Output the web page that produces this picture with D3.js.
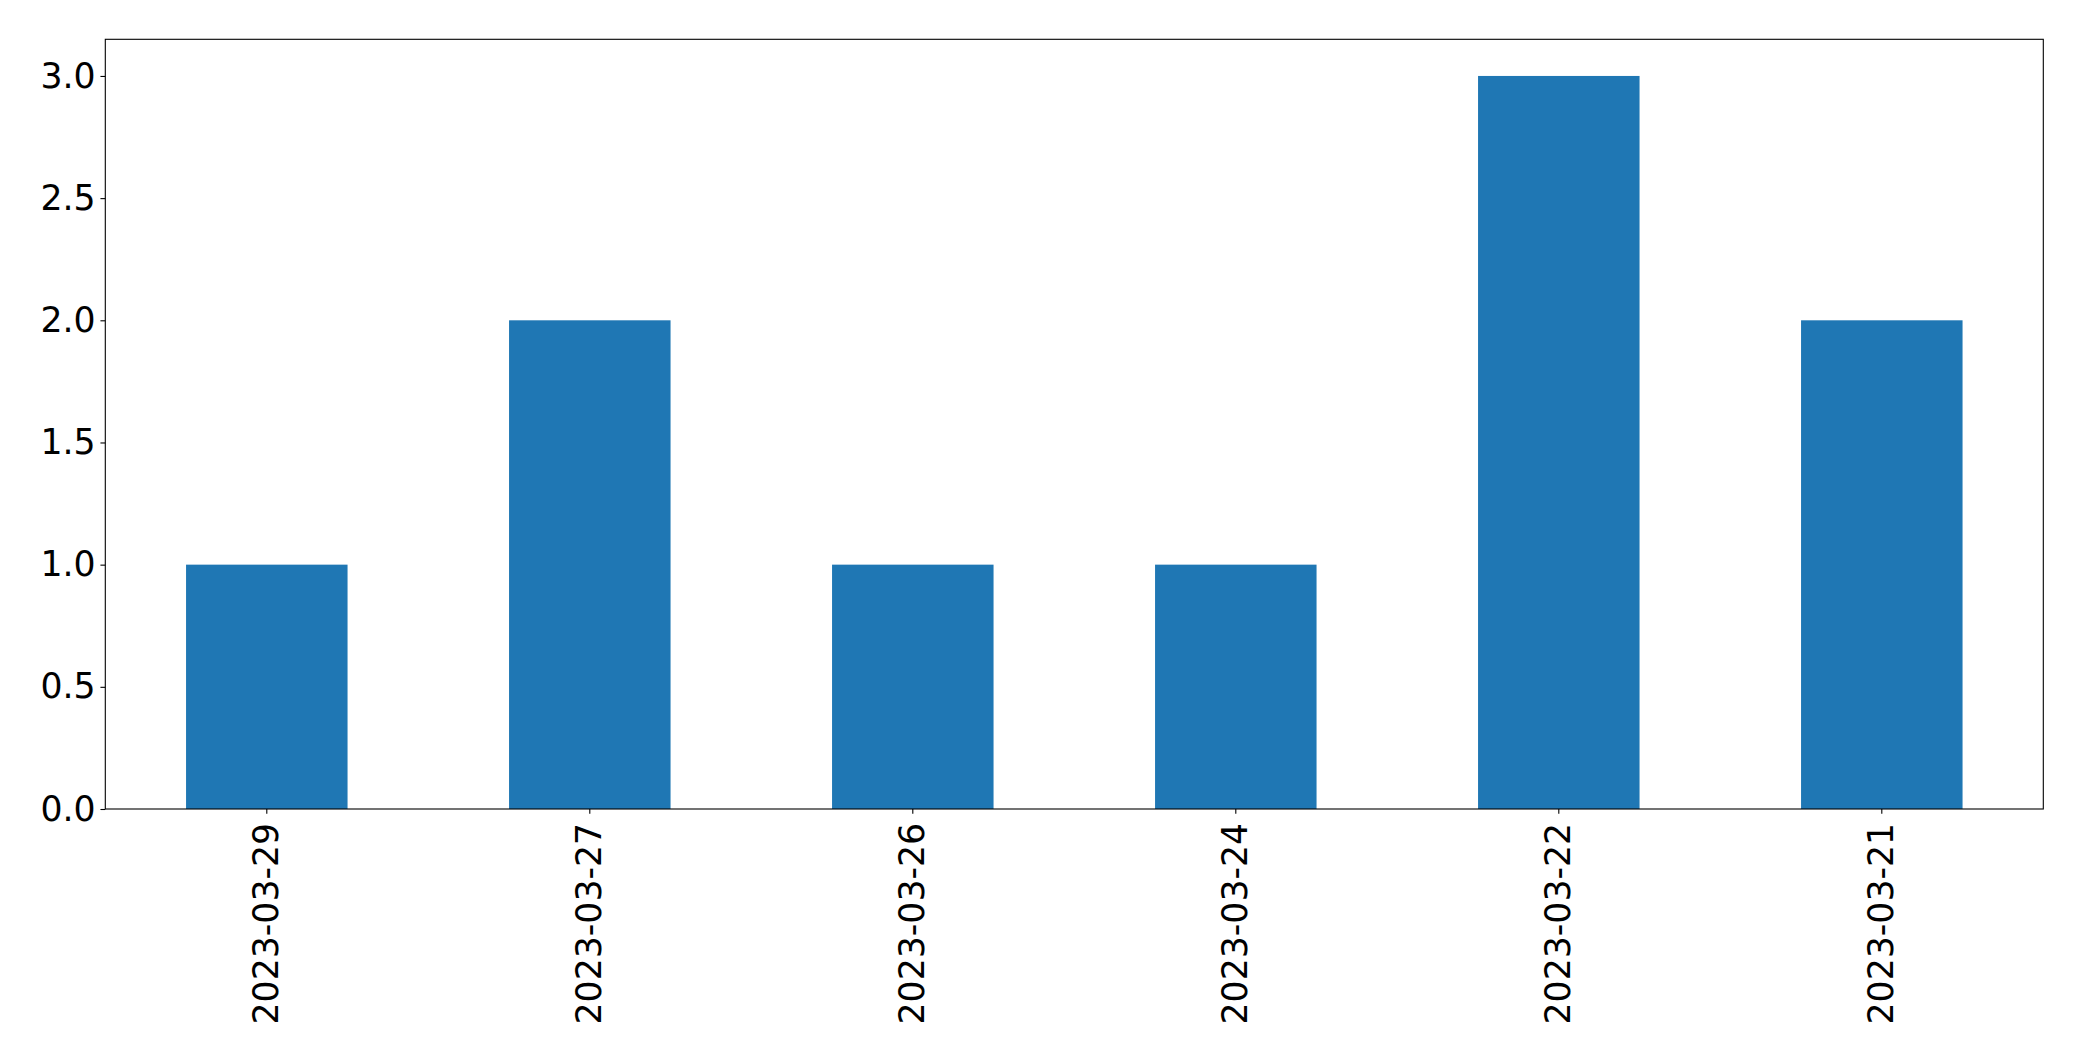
<!DOCTYPE html>
<html>
<head>
<meta charset="utf-8">
<script src="https://cdn.jsdelivr.net/npm/d3@7"></script>
<style>
  html, body { margin: 0; padding: 0; background: #fff; }
  svg { display: block; }
  text { font-family: "DejaVu Sans", sans-serif; }
</style>
</head>
<body>
<svg id="chart" width="2082" height="1061"></svg>
<script>
const categories = ["2023-03-29", "2023-03-27", "2023-03-26", "2023-03-24", "2023-03-22", "2023-03-21"];
const values = [1, 2, 1, 1, 3, 2];
const yTicks = [0.0, 0.5, 1.0, 1.5, 2.0, 2.5, 3.0];

const W = 2082, H = 1061;
const margin = { left: 105.3, top: 39.3, right: W - 2043.3, bottom: H - 809 };
const iw = W - margin.left - margin.right;
const ih = H - margin.top - margin.bottom;
const fontPx = 34.7;
const tickLen = 4.86;

const svg = d3.select("#chart");
const g = svg.append("g").attr("transform", `translate(${margin.left},${margin.top})`);

const x = d3.scaleBand().domain(categories).range([0, iw]).paddingInner(0.5).paddingOuter(0.25);
const y = d3.scaleLinear().domain([0, 3.15]).range([ih, 0]);

g.selectAll("rect.bar").data(values).enter().append("rect")
  .attr("class", "bar")
  .attr("x", (d, i) => x(categories[i]))
  .attr("width", x.bandwidth())
  .attr("y", d => y(d))
  .attr("height", d => y(0) - y(d))
  .attr("fill", "#1f77b4");

// Y axis
const yAxis = d3.axisLeft(y).tickValues(yTicks).tickFormat(d3.format(".1f")).tickSize(tickLen).tickPadding(4.86);
const ya = g.append("g").call(yAxis);
ya.select(".domain").remove();
ya.selectAll("line").attr("stroke", "#000").attr("stroke-width", 1.1);
ya.selectAll("text").attr("font-size", fontPx).attr("fill", "#000").attr("font-family", "DejaVu Sans");

// X axis
const xAxis = d3.axisBottom(x).tickSize(tickLen).tickPadding(4.86);
const xa = g.append("g").attr("transform", `translate(0,${ih})`).call(xAxis);
xa.select(".domain").remove();
xa.selectAll("line").attr("stroke", "#000").attr("stroke-width", 1.1);
xa.selectAll("text")
  .attr("font-size", fontPx).attr("fill", "#000").attr("font-family", "DejaVu Sans")
  .attr("text-anchor", "end")
  .attr("transform", `translate(-1,${tickLen + 9}) rotate(-90)`)
  .attr("x", 0).attr("y", 0).attr("dy", "0.36em");

// Frame
g.append("rect").attr("x", 0).attr("y", 0).attr("width", iw).attr("height", ih)
  .attr("fill", "none").attr("stroke", "#000").attr("stroke-width", 1.1);
</script>
</body>
</html>
